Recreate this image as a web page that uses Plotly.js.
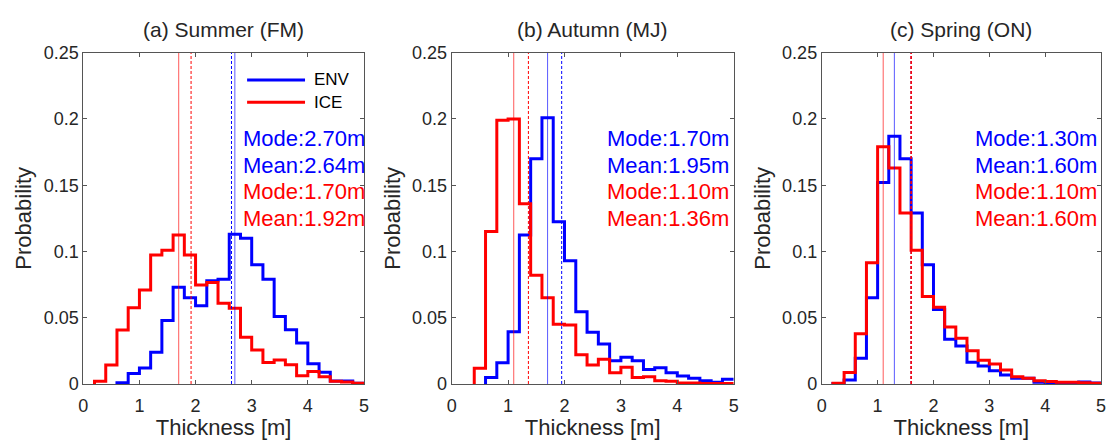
<!DOCTYPE html>
<html><head><meta charset="utf-8">
<script src="https://cdn.plot.ly/plotly-3.0.1.min.js"></script>
<style>html,body{margin:0;padding:0;background:#fff}#chart{width:1109px;height:440px}</style>
</head><body><div id="chart"></div>
<script>
// ---- data ----
const panelTitles = ["(a) Summer (FM)", "(b) Autumn (MJ)", "(c) Spring (ON)"];
const seriesNames = ["ENV", "ICE"];
const binWidth = 0.2;
const envStart = [0.6, 0.6, 0.2];   // left edge of first bin (m)
const iceStart = [0.2, 0.4, 0.2];

const envSummer = [0.001, 0.008, 0.012, 0.024, 0.048, 0.073, 0.065, 0.059, 0.078, 0.079, 0.113, 0.110, 0.090, 0.079, 0.051, 0.041, 0.031, 0.0153, 0.0088, 0.0022, 0.0022, 0.0005];
const iceSummer = [0.002, 0.0143, 0.0407, 0.0576, 0.0709, 0.0973, 0.101, 0.1124, 0.0973, 0.0747, 0.0765, 0.0609, 0.0571, 0.0352, 0.0257, 0.0163, 0.0181, 0.0146, 0.0063, 0.0095, 0.0055, 0.002, 0.0015, 0.0005];
const envAutumn = [0.005, 0.016, 0.0395, 0.1124, 0.170, 0.201, 0.1225, 0.093, 0.0546, 0.039, 0.0302, 0.0176, 0.0201, 0.0176, 0.011, 0.0123, 0.0085, 0.006, 0.0043, 0.0025, 0.0013, 0.0035];
const iceAutumn = [0.0118, 0.115, 0.199, 0.200, 0.136, 0.082, 0.065, 0.045, 0.0445, 0.022, 0.0143, 0.0186, 0.0085, 0.0126, 0.005, 0.0055, 0.0025, 0.002, 0.0008, 0.0008, 0.0003, 0.0003, 0.0003];
const envSpring = [0.0003, 0.003, 0.0194, 0.065, 0.152, 0.187, 0.170, 0.129, 0.090, 0.0563, 0.0337, 0.0287, 0.0164, 0.0136, 0.010, 0.0068, 0.0043, 0.0043, 0.0013, 0.001, 0.001, 0.001, 0.0015, 0.0008];
const iceSpring = [0.0005, 0.0086, 0.038, 0.0915, 0.179, 0.163, 0.129, 0.101, 0.066, 0.058, 0.043, 0.0345, 0.025, 0.018, 0.015, 0.0106, 0.0055, 0.0043, 0.0025, 0.0018, 0.0013, 0.0013, 0.001, 0.0005];

const envMode = [2.70, 1.70, 1.30];
const envMean = [2.64, 1.95, 1.60];
const iceMode = [1.70, 1.10, 1.10];
const iceMean = [1.92, 1.36, 1.60];

const statTextX = [2.81, 2.72, 2.70];
const statTextY = [0.185, 0.165, 0.145, 0.125];

const xTicks = [0, 1, 2, 3, 4, 5];
const yTicks = [0, 0.05, 0.1, 0.15, 0.2, 0.25];
const yTickText = ["0", "0.05", "0.1", "0.15", "0.2", "0.25"];

// ---- build ----
const envData = [envSummer, envAutumn, envSpring];
const iceData = [iceSummer, iceAutumn, iceSpring];
const BLUE = "#0000ff", RED = "#ff0000";
const FONT = "Liberation Sans, Arial, Helvetica, sans-serif";
const TXT = "#262626";
const AXC = "#555555";

function stairs(start, vals) {
  const x = [start], y = [0];
  for (let i = 0; i < vals.length; i++) { x.push(+(start + i * binWidth).toFixed(4)); y.push(vals[i]); }
  x.push(+(start + vals.length * binWidth).toFixed(4)); y.push(vals[vals.length - 1]);
  return {x, y};
}

const xDomains = [[0.0751, 0.3282], [0.4073, 0.6616], [0.741, 0.9928]];
const yDomain = [0.12727, 0.88023];

const traces = [];
const annotations = [];
const shapes = [];
const layout = {
  width: 1109, height: 440,
  margin: {l: 0, r: 0, t: 0, b: 0},
  paper_bgcolor: "#fff", plot_bgcolor: "#fff",
  showlegend: false,
  font: {family: FONT, color: TXT, size: 18}
};

for (let p = 0; p < 3; p++) {
  const sfx = p === 0 ? "" : String(p + 1);
  const xa = "x" + sfx, ya = "y" + sfx;
  const e = stairs(envStart[p], envData[p]);
  const c = stairs(iceStart[p], iceData[p]);
  traces.push({x: e.x, y: e.y, xaxis: xa, yaxis: ya, type: "scatter", mode: "lines", name: seriesNames[0],
    line: {color: BLUE, width: 3, shape: "hv"}, hoverinfo: "skip"});
  traces.push({x: c.x, y: c.y, xaxis: xa, yaxis: ya, type: "scatter", mode: "lines", name: seriesNames[1],
    line: {color: RED, width: 3, shape: "hv"}, hoverinfo: "skip"});
  // mode (solid) and mean (dashed) lines; ICE drawn last (on top)
  const vl = [[envMode[p], "rgba(0,0,255,0.65)", "solid", 1], [envMean[p], BLUE, "3px,2px", 1],
              [iceMode[p], "rgba(255,0,0,0.65)", "solid", 1], [iceMean[p], RED, "3px,2px", iceMean[p] === envMean[p] ? 1.6 : 1]];
  vl.forEach(v => traces.push({x: [v[0], v[0]], y: [yTicks[0], yTicks[yTicks.length - 1]], xaxis: xa, yaxis: ya,
    type: "scatter", mode: "lines", line: {color: v[1], width: v[3], dash: v[2]}, hoverinfo: "skip"}));

  layout["xaxis" + sfx] = {
    domain: xDomains[p], anchor: ya, range: [0, 5], tickvals: xTicks,
    showline: true, mirror: "ticks", linecolor: AXC, linewidth: 1,
    ticks: "inside", ticklen: 4, tickcolor: AXC, showgrid: false, zeroline: false,
    ticklabelstandoff: 5,
    tickfont: {size: 18, color: TXT, family: FONT},
    title: {text: "Thickness [m]", font: {size: 22, color: TXT, family: FONT}, standoff: 7}
  };
  layout["yaxis" + sfx] = {
    domain: yDomain, anchor: xa, range: [0, 0.25], tickvals: yTicks, ticktext: yTickText,
    showline: true, mirror: "ticks", linecolor: AXC, linewidth: 1,
    ticks: "inside", ticklen: 4, tickcolor: AXC, showgrid: false, zeroline: false,
    tickfont: {size: 18, color: TXT, family: FONT},
    title: {text: "Probability", font: {size: 22, color: TXT, family: FONT}, standoff: 5}
  };

  annotations.push({xref: "paper", yref: "paper", x: (xDomains[p][0] + xDomains[p][1]) / 2, y: 1 - 30 / 440,
    xanchor: "center", yanchor: "middle", showarrow: false, text: panelTitles[p],
    font: {size: 21, color: TXT, family: FONT}});

  const stats = [["Mode:" + envMode[p].toFixed(2) + "m", BLUE], ["Mean:" + envMean[p].toFixed(2) + "m", BLUE],
                 ["Mode:" + iceMode[p].toFixed(2) + "m", RED], ["Mean:" + iceMean[p].toFixed(2) + "m", RED]];
  stats.forEach((s, i) => annotations.push({xref: xa, yref: ya, x: statTextX[p], y: statTextY[i],
    xanchor: "left", yanchor: "middle", showarrow: false, text: s[0], font: {size: 22, color: s[1], family: FONT}}));
}

// legend (panel a)
const legY = [0.9176, 0.8503];
[BLUE, RED].forEach((col, i) => {
  shapes.push({type: "line", xref: "x domain", yref: "y domain", x0: 0.5836, x1: 0.79, y0: legY[i], y1: legY[i],
    line: {color: col, width: 3}});
  annotations.push({xref: "x domain", yref: "y domain", x: 0.814, y: legY[i], xanchor: "left", yanchor: "middle",
    showarrow: false, text: seriesNames[i], font: {size: 17, color: "#000", family: FONT}});
});

layout.annotations = annotations;
layout.shapes = shapes;
Plotly.newPlot("chart", traces, layout, {staticPlot: true, displayModeBar: false});
</script></body></html>
